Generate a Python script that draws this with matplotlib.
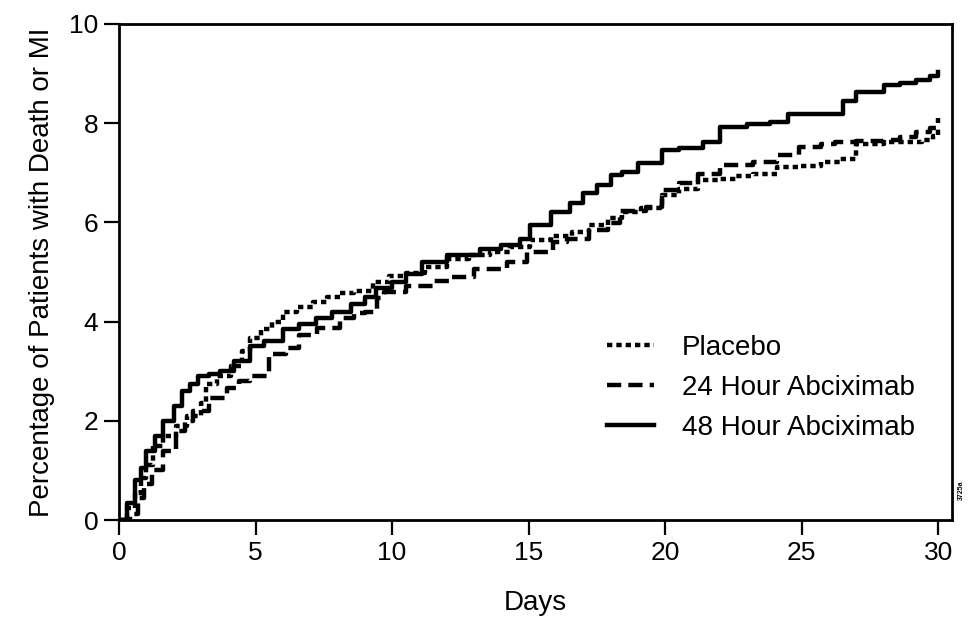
import numpy as np
import matplotlib
matplotlib.use("Agg")
from matplotlib import pyplot as plt

plt.rcParams['font.family'] = ['Liberation Sans', 'DejaVu Sans']

# days / cumulative % (Kaplan-Meier style steps)
days_placebo = [0, 0.3, 0.6, 0.8, 1.0, 1.25, 1.6, 2.1, 2.5, 3.0, 3.2, 3.6, 4.1, 4.5, 4.8,
                5.2, 5.6, 6.0, 6.5, 7.1, 7.6, 8.1, 8.6, 9.3, 9.9, 10.5, 11.2, 12.0, 12.8,
                13.6, 14.3, 15.05, 15.8, 16.6, 17.2, 17.9, 18.4, 19.1, 19.9, 20.5, 21.2,
                22.0, 22.6, 23.2, 24.1, 24.9, 25.7, 26.4, 27.0, 28.0, 29.4, 29.8, 30.0]
pct_placebo = [0, 0.25, 0.55, 0.85, 1.1, 1.5, 1.7, 1.9, 2.1, 2.35, 2.74, 2.9, 3.1, 3.4, 3.66,
               3.85, 4.0, 4.2, 4.3, 4.4, 4.5, 4.57, 4.62, 4.8, 4.92, 4.97, 5.1, 5.27, 5.35,
               5.41, 5.5, 5.65, 5.73, 5.81, 5.95, 6.08, 6.2, 6.3, 6.55, 6.68, 6.85,
               6.88, 6.93, 6.98, 7.12, 7.14, 7.22, 7.28, 7.59, 7.63, 7.67, 7.75, 7.9]

days_24h = [0, 0.4, 0.7, 0.9, 1.2, 1.6, 2.1, 2.4, 2.7, 3.3, 3.95, 4.4, 4.8, 5.5, 6.1, 6.6,
            7.25, 8.1, 8.6, 9.0, 9.45, 9.7, 10.5, 11.5, 12.2, 13.0, 14.2, 14.95, 15.9, 16.4,
            17.2, 17.9, 18.35, 19.3, 19.9, 20.5, 21.2, 22.0, 23.2, 24.1, 24.9, 25.7, 26.2,
            27.0, 28.0, 28.6, 29.2, 29.7, 30.0]
pct_24h = [0, 0.12, 0.45, 0.72, 1.0, 1.39, 1.79, 2.0, 2.19, 2.45, 2.66, 2.8, 2.9, 3.34, 3.47,
           3.74, 3.87, 4.07, 4.17, 4.2, 4.47, 4.6, 4.72, 4.81, 4.9, 5.07, 5.21, 5.41, 5.6,
           5.67, 5.85, 5.98, 6.22, 6.32, 6.66, 6.8, 6.98, 7.16, 7.22, 7.36, 7.52, 7.59, 7.63,
           7.65, 7.67, 7.72, 7.83, 7.9, 8.1]

days_48h = [0, 0.3, 0.6, 0.8, 1.0, 1.3, 1.6, 2.0, 2.3, 2.6, 2.9, 3.3, 3.7, 4.2, 4.8, 5.3,
            6.0, 6.6, 7.2, 7.8, 8.5, 9.0, 9.4, 10.0, 10.5, 11.1, 12.0, 13.2, 14.0, 14.7,
            15.05, 15.8, 16.5, 17.0, 17.5, 18.0, 18.4, 19.0, 19.9, 20.5, 21.4, 22.0, 23.0,
            23.85, 24.5, 25.9, 26.5, 27.0, 28.0, 28.6, 29.2, 29.7, 30.0]
pct_48h = [0, 0.35, 0.8, 1.05, 1.4, 1.7, 2.0, 2.3, 2.6, 2.75, 2.9, 2.95, 3.0, 3.2, 3.5, 3.6,
           3.85, 3.95, 4.07, 4.2, 4.35, 4.5, 4.67, 4.8, 4.95, 5.2, 5.35, 5.47, 5.55, 5.67,
           5.95, 6.2, 6.4, 6.6, 6.75, 6.95, 7.02, 7.2, 7.46, 7.5, 7.63, 7.93, 7.98,
           8.03, 8.19, 8.19, 8.45, 8.63, 8.77, 8.82, 8.87, 8.95, 9.03]

labels = ['Placebo', '24 Hour Abciximab', '48 Hour Abciximab']
x_ticks = [0, 5, 10, 15, 20, 25, 30]
y_ticks = [0, 2, 4, 6, 8, 10]

fig = plt.figure(figsize=(9.7, 6.21), dpi=100)
ax = fig.add_axes([0.1227, 0.1626, 0.8587, 0.7988])

lw = 3.2
ax.plot(days_placebo, pct_placebo, color='black', lw=lw, drawstyle='steps-post',
        dashes=(1.2, 0.9), label=labels[0])
ax.plot(days_24h, pct_24h, color='black', lw=lw, drawstyle='steps-post',
        dashes=(3.2, 1.6), label=labels[1])
ax.plot(days_48h, pct_48h, color='black', lw=lw, drawstyle='steps-post',
        label=labels[2])

ax.set_xlim(0, 30.5)
ax.set_ylim(0, 10)
ax.set_xticks(x_ticks)
ax.set_yticks(y_ticks)
ax.tick_params(direction='out', length=11, width=1.6, labelsize=19, pad=4)
for sp in ax.spines.values():
    sp.set_linewidth(2)

ax.set_xlabel('Days', fontsize=20, labelpad=18)
ax.set_ylabel('Percentage of Patients with Death or MI', fontsize=20, labelpad=10)

ax.legend(loc='upper left', bbox_to_anchor=(593 / 970, 1 - 321 / 621),
          bbox_transform=fig.transFigure, frameon=False, fontsize=20,
          handlelength=1.7, handletextpad=1.0, labelspacing=0.5, borderpad=0)

fig.text(961 / 970, 1 - 490 / 621, '3725a', rotation=90, fontsize=5,
         fontweight='bold', ha='center', va='center')

plt.savefig('out.png', dpi=100)
